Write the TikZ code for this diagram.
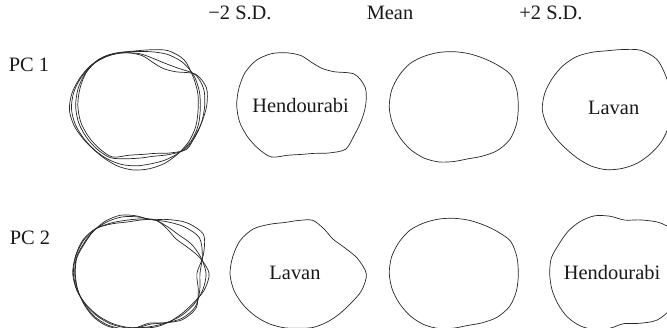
\documentclass[tikz,border=0pt]{standalone}
\usepackage{fontspec}
\setmainfont{Liberation Serif}
\usepackage{tikz}

% outline radii, one value every 15 degrees
\def\meanR{{64.5,65.3,65.5,60.5,57.1,55.7,55.6,56.8,59,61.9,63.3,64.5,64.5,63.4,61.7,60.4,58.8,56.6,54.2,53.4,56.5,61.3,64.6,64.9}}
\def\pcaLo{{64.4,66.3,61.5,47,42.1,43.5,49.3,54,59.3,63.4,64.9,64.6,64.6,64,62.5,61.3,60,52,49.4,50.1,55.4,62.6,61,62}}
\def\pcaHi{{64.5,66.4,68.3,71.2,68.6,62.3,58.9,59.3,61,61.9,62.6,63.9,64.2,61.5,58,56.2,56.6,58.4,60,60.8,61.7,62.3,63.6,64.3}}
\def\pcbLo{{68.1,61,53.1,49.2,51.8,55.6,53.5,53.3,57.4,63.7,67.1,67.8,68.3,66.3,63,60,57.6,55.6,54.3,55.4,56,57.2,59.9,65.3}}
\def\pcbHi{{60.9,69.6,77.9,71.8,62.4,55.8,57.7,60.3,60.6,60.1,59.5,61.2,60.7,60.5,60.4,60.8,60,57.6,54.1,51.4,57,65.4,69.3,64.5}}

\begin{document}
\begin{tikzpicture}[x=1bp,y=1bp,
  shapeline/.style={draw=black!85,line width=0.7pt,smooth cycle},
  txt/.style={font=\fontsize{20.5}{24}\selectfont,text=black!90,inner sep=0pt}]
\useasboundingbox (0,0) rectangle (667,327);
\clip (0,0) rectangle (667,327);
% titles
\node[txt] (minus) at (240,314) {−2 S.D.};
\node[txt] (mean) at (390,314) {Mean};
\node[txt] (plus) at (551,314) {+2 S.D.};
\node[txt] (pc1) at (29,262.5) {PC 1};
\node[txt] (pc2) at (30,89.5) {PC 2};
% centres
\coordinate (ov1) at (138,219.5);
\coordinate (h1) at (301.3,222);
\coordinate (m1) at (453.8,219.7);
\coordinate (l1) at (606.5,217.3);
\coordinate (ov2) at (138.5,53.5);
\coordinate (l2) at (298.3,53);
\coordinate (m2) at (453.8,53.1);
\coordinate (h2) at (610.4,53);
% PC 1
\draw[shapeline,shift={(ov1)},shift={(4.4,2.5)}] plot[variable=\k,samples at={0,...,23}] ({15*\k}:{\pcaLo[\k]});
\draw[shapeline,shift={(ov1)},shift={(2.2,1.25)}] plot[variable=\k,samples at={0,...,23}] ({15*\k}:{0.5*\pcaLo[\k]+0.5*\meanR[\k]});
\draw[shapeline,shift={(ov1)},shift={(-2.2,-1.25)}] plot[variable=\k,samples at={0,...,23}] ({15*\k}:{0.5*\pcaHi[\k]+0.5*\meanR[\k]});
\draw[shapeline,shift={(ov1)},shift={(-4.4,-2.5)}] plot[variable=\k,samples at={0,...,23}] ({15*\k}:{\pcaHi[\k]});
\draw[shapeline,shift={(h1)}] plot[variable=\k,samples at={0,...,23}] ({15*\k}:{\pcaLo[\k]});
\draw[shapeline,shift={(m1)}] plot[variable=\k,samples at={0,...,23}] ({15*\k}:{\meanR[\k]});
\draw[shapeline,shift={(l1)}] plot[variable=\k,samples at={0,...,23}] ({15*\k}:{\pcaHi[\k]});
% PC 2
\draw[shapeline,shift={(ov2)},shift={(2.5,0)}] plot[variable=\k,samples at={0,...,23}] ({15*\k}:{\pcbLo[\k]});
\draw[shapeline,shift={(ov2)},shift={(1.25,0)}] plot[variable=\k,samples at={0,...,23}] ({15*\k}:{0.5*\pcbLo[\k]+0.5*\meanR[\k]});
\draw[shapeline,shift={(ov2)},shift={(-1.25,0)}] plot[variable=\k,samples at={0,...,23}] ({15*\k}:{0.5*\pcbHi[\k]+0.5*\meanR[\k]});
\draw[shapeline,shift={(ov2)},shift={(-2.5,0)}] plot[variable=\k,samples at={0,...,23}] ({15*\k}:{\pcbHi[\k]});
\draw[shapeline,shift={(l2)}] plot[variable=\k,samples at={0,...,23}] ({15*\k}:{\pcbLo[\k]});
\draw[shapeline,shift={(m2)}] plot[variable=\k,samples at={0,...,23}] ({15*\k}:{\meanR[\k]});
\draw[shapeline,shift={(h2)}] plot[variable=\k,samples at={0,...,23}] ({15*\k}:{\pcbHi[\k]});
% names
\node[txt] (hend1) at (300.5,221) {Hendourabi};
\node[txt] (lav1) at (613.7,219.5) {Lavan};
\node[txt] (lav2) at (295,54.5) {Lavan};
\node[txt] (hend2) at (612,54.5) {Hendourabi};
\end{tikzpicture}
\end{document}
